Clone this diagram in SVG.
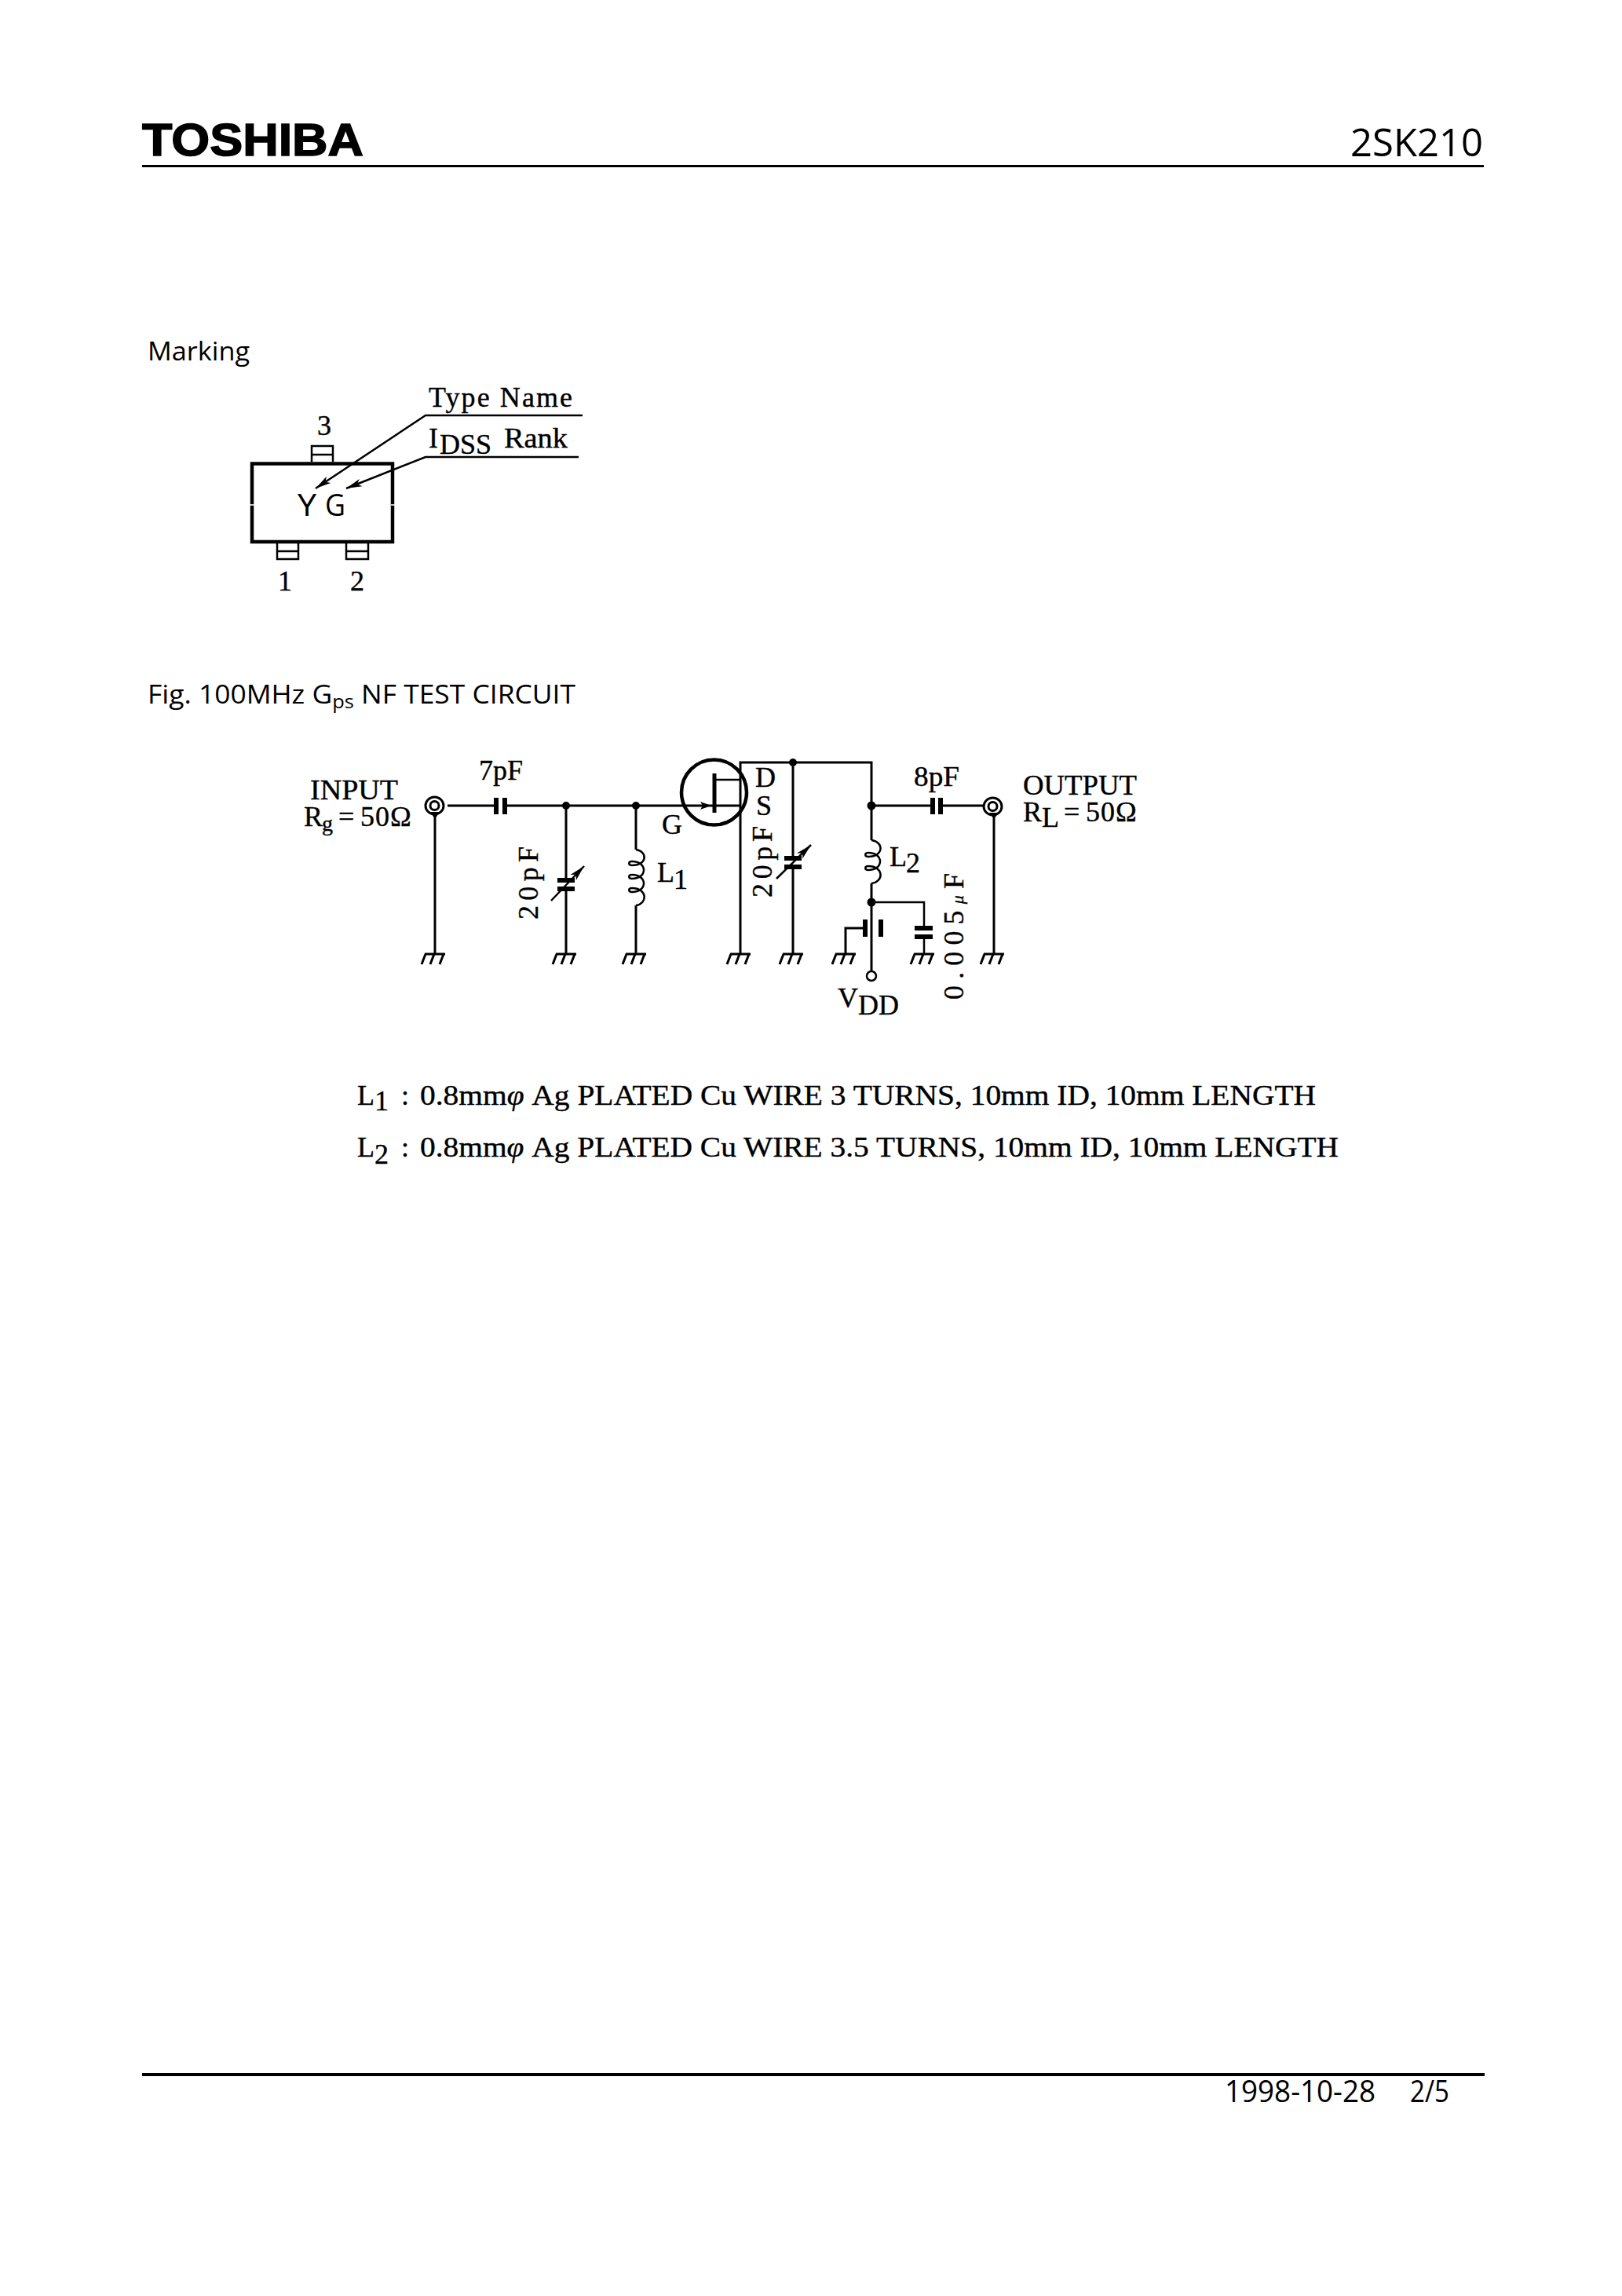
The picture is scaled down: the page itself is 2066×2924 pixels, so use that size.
<svg xmlns="http://www.w3.org/2000/svg" width="2066" height="2924" viewBox="0 0 2066 2924">
<style>
.bg{fill:#fff}
.sans{font-family:"Open Sans","Noto Sans","DejaVu Sans",sans-serif;fill:#000}
.serif{font-family:"Liberation Serif","DejaVu Serif",serif;fill:#000;font-size:36px;stroke:#000;stroke-width:.4}
.w{fill:none;stroke:#000;stroke-width:3}
.n{fill:none;stroke:#000;stroke-width:2.5}
.p{fill:none;stroke:#000;stroke-width:6}
.d{fill:#000}
</style>
<defs>
<marker id="arrow" markerUnits="userSpaceOnUse" markerWidth="24" markerHeight="12" refX="20" refY="6" orient="auto"><path d="M0 1L20 6L0 11L5 6Z" fill="#000"/></marker>
<g id="gnd"><path class="w" d="M-13 0H13"/><path class="w" d="M-12 0L-17 13M-1 0L-6 13M11 0L6 13"/></g>
</defs>
<rect class="bg" width="2066" height="2924"/>

<g id="header">
<text x="181" y="198" font-family="Liberation Sans" font-weight="700" font-size="58" textLength="282" lengthAdjust="spacingAndGlyphs" stroke="#000" stroke-width="1.500">TOSHIBA</text>
<text class="sans" x="1720" y="199" font-size="49" textLength="169" lengthAdjust="spacingAndGlyphs">2SK210</text>
<path d="M181 211.500H1890" stroke="#000" stroke-width="3"/>
</g>

<g id="marking-title"><text class="sans" x="188" y="459" font-size="32" textLength="130" lengthAdjust="spacingAndGlyphs">Marking</text></g>

<g id="package">
<path class="n" d="M397 588V568H424V588M397 579H424"/>
<path class="n" d="M353 692V712H380V692M353 702H380"/>
<path class="n" d="M441 692V712H469V692M441 702H469"/>
<rect x="321" y="590.500" width="179" height="99.500" fill="none" stroke="#000" stroke-width="4.500"/>
<path d="M318 643H324M498 643H503" stroke="#fff" stroke-width="1.500"/>
<text class="sans" x="379" y="657" font-size="38" textLength="24" lengthAdjust="spacingAndGlyphs">Y</text>
<text class="sans" x="414" y="657" font-size="38" textLength="26" lengthAdjust="spacingAndGlyphs">G</text>
<text class="serif" x="413" y="554" text-anchor="middle">3</text>
<text class="serif" x="363" y="752" text-anchor="middle">1</text>
<text class="serif" x="455" y="752" text-anchor="middle">2</text>
</g>
<g id="marking-labels">
<text class="serif" x="546" y="518" textLength="183" lengthAdjust="spacing">Type Name</text>
<text class="serif" x="546" y="570">I<tspan x="560" y="578">DSS</tspan></text>
<text class="serif" x="642" y="570" textLength="81" lengthAdjust="spacingAndGlyphs">Rank</text>
<path class="n" d="M742 529H542L402 622" marker-end="url(#arrow)"/>
<path class="n" d="M737 582H542L441 622" marker-end="url(#arrow)"/>
</g>

<g id="figure-title"><text class="sans" x="188" y="896" font-size="32" textLength="545" lengthAdjust="spacingAndGlyphs">Fig. 100MHz G<tspan font-size="23" dy="6">ps</tspan><tspan dy="-6"> NF TEST CIRCUIT</tspan></text></g>

<g id="connectors">
<path class="w" d="M570 1026H629M646 1026H864"/>
<path class="w" d="M554 1037V1215"/>
<path class="w" d="M721 1026V1121M721 1132V1215"/>
<path class="w" d="M810 1026V1082M810 1153V1215"/>
<path class="w" d="M943 1215V971H1110V1070M1110 1125V1236"/>
<path class="w" d="M1010 971V1093M1010 1104V1215"/>
<path class="w" d="M1110 1026H1185M1201 1026H1253"/>
<path class="n" d="M1110 1149H1177V1182M1177 1193V1215"/>
<path class="w" d="M1102 1182H1077V1215"/>
<path class="w" d="M1266 1037V1215"/>
<circle class="d" cx="721" cy="1026" r="5"/>
<circle class="d" cx="810" cy="1026" r="5"/>
<circle class="d" cx="1010" cy="971" r="5"/>
<circle class="d" cx="1110" cy="1026" r="5.500"/>
<circle class="d" cx="1110" cy="1149" r="5.500"/>
</g>

<g id="input-terminal">
<ellipse cx="553.500" cy="1026" rx="11.500" ry="11" class="w"/><circle cx="553.500" cy="1026" r="5.500" class="w"/><path class="d" d="M548 1034H560L554 1043Z"/>
<text class="serif" x="395" y="1018" textLength="112" lengthAdjust="spacingAndGlyphs">INPUT</text>
<text class="serif" x="387" y="1052">R<tspan x="410" y="1058" font-size="28">g</tspan><tspan x="431" y="1052">=</tspan><tspan x="459 478 497" y="1052">50Ω</tspan></text>
</g>
<g id="c-7pF">
<path class="p" d="M632 1016V1037M643 1016V1037"/>
<text class="serif" x="610" y="993" textLength="56" lengthAdjust="spacingAndGlyphs">7pF</text>
</g>
<g id="vc-1">
<path class="p" d="M710 1121H732M710 1132H732"/>
<path class="n" d="M702 1147L744 1103" marker-end="url(#arrow)"/>
<text class="serif" transform="translate(685 1171) rotate(-90)" textLength="93" lengthAdjust="spacing">20pF</text>
</g>
<g id="l1">
<path class="n" d="M810 1082C825 1084 825 1102 805 1102C800 1102 800 1097 805 1097C825 1097 825 1119 805 1119C800 1119 800 1114 805 1114C825 1114 825 1136 805 1136C800 1136 800 1131 805 1131C825 1131 825 1151 810 1153"/>
<text class="serif" x="837" y="1123">L<tspan x="858" y="1132">1</tspan></text>
</g>
<g id="fet">
<circle cx="909.500" cy="1009" r="41.500" fill="none" stroke="#000" stroke-width="4.500"/>
<path d="M910 985V1035" fill="none" stroke="#000" stroke-width="5"/>
<path class="n" d="M910 993H943"/>
<path class="w" d="M864 1026H943"/>
<path class="d" d="M892 1021L906 1026L892 1031L895 1026Z"/>
<text class="serif" x="843" y="1062">G</text>
<text class="serif" x="962" y="1002">D</text>
<text class="serif" x="963" y="1038">S</text>
</g>
<g id="vc-2">
<path class="p" d="M999 1093H1021M999 1104H1021"/>
<path class="n" d="M989 1119L1033 1076" marker-end="url(#arrow)"/>
<text class="serif" transform="translate(982.500 1143) rotate(-90)" textLength="91" lengthAdjust="spacing">20pF</text>
</g>
<g id="l2">
<path class="n" d="M1110 1070C1126 1072 1126 1091 1106 1091C1101 1091 1101 1086 1106 1086C1126 1086 1126 1108 1106 1108C1101 1108 1101 1103 1106 1103C1126 1103 1126 1123 1110 1125"/>
<text class="serif" x="1133" y="1103">L<tspan x="1154" y="1111">2</tspan></text>
</g>
<g id="battery">
<path class="p" d="M1102 1171V1193M1122 1171V1193"/>
</g>
<g id="c-bypass">
<path class="p" d="M1165 1182H1188M1165 1193H1188"/>
<text class="serif" transform="translate(1227 1273) rotate(-90)" textLength="161" lengthAdjust="spacing">0.005<tspan font-style="italic" font-size="22">μ</tspan>F</text>
</g>
<g id="vdd">
<circle cx="1110" cy="1243" r="6" fill="#fff" stroke="#000" stroke-width="2.500"/>
<text class="serif" x="1067" y="1283">V<tspan x="1093" y="1292">DD</tspan></text>
</g>
<g id="c-8pF">
<path class="p" d="M1188 1016V1037M1198 1016V1037"/>
<text class="serif" x="1164" y="1001" textLength="58" lengthAdjust="spacingAndGlyphs">8pF</text>
</g>
<g id="output-terminal">
<ellipse cx="1264.500" cy="1027" rx="11.500" ry="11" class="w"/><circle cx="1264.500" cy="1027" r="5.500" class="w"/><path class="d" d="M1260 1035H1272L1266 1043Z"/>
<text class="serif" x="1303" y="1012" textLength="145" lengthAdjust="spacingAndGlyphs">OUTPUT</text>
<text class="serif" x="1303" y="1046">R<tspan x="1327" y="1053">L</tspan><tspan x="1355" y="1046">=</tspan><tspan x="1383 1402 1421" y="1046">50Ω</tspan></text>
</g>
<use href="#gnd" x="554" y="1215"/><use href="#gnd" x="721" y="1215"/><use href="#gnd" x="810" y="1215"/>
<use href="#gnd" x="943" y="1215"/><use href="#gnd" x="1010" y="1215"/><use href="#gnd" x="1077" y="1215"/><use href="#gnd" x="1177" y="1215"/><use href="#gnd" x="1266" y="1215"/>

<g id="notes">
<text class="serif" x="455" y="1407">L<tspan x="477" y="1414">1</tspan></text>
<text class="serif" x="511" y="1407">:</text>
<text class="serif" x="535" y="1407" textLength="1141" lengthAdjust="spacingAndGlyphs" font-size="33">0.8mm<tspan font-style="italic">φ</tspan> Ag PLATED Cu WIRE 3 TURNS, 10mm ID, 10mm LENGTH</text>
<text class="serif" x="455" y="1473">L<tspan x="477" y="1482">2</tspan></text>
<text class="serif" x="511" y="1473">:</text>
<text class="serif" x="535" y="1473" textLength="1170" lengthAdjust="spacingAndGlyphs" font-size="33">0.8mm<tspan font-style="italic">φ</tspan> Ag PLATED Cu WIRE 3.5 TURNS, 10mm ID, 10mm LENGTH</text>
</g>

<g id="footer">
<path d="M181 2642H1891" stroke="#000" stroke-width="4"/>
<text class="sans" x="1560" y="2677" font-size="38" textLength="192" lengthAdjust="spacingAndGlyphs">1998-10-28</text>
<text class="sans" x="1796" y="2677" font-size="38" textLength="50" lengthAdjust="spacingAndGlyphs">2/5</text>
</g>
</svg>
